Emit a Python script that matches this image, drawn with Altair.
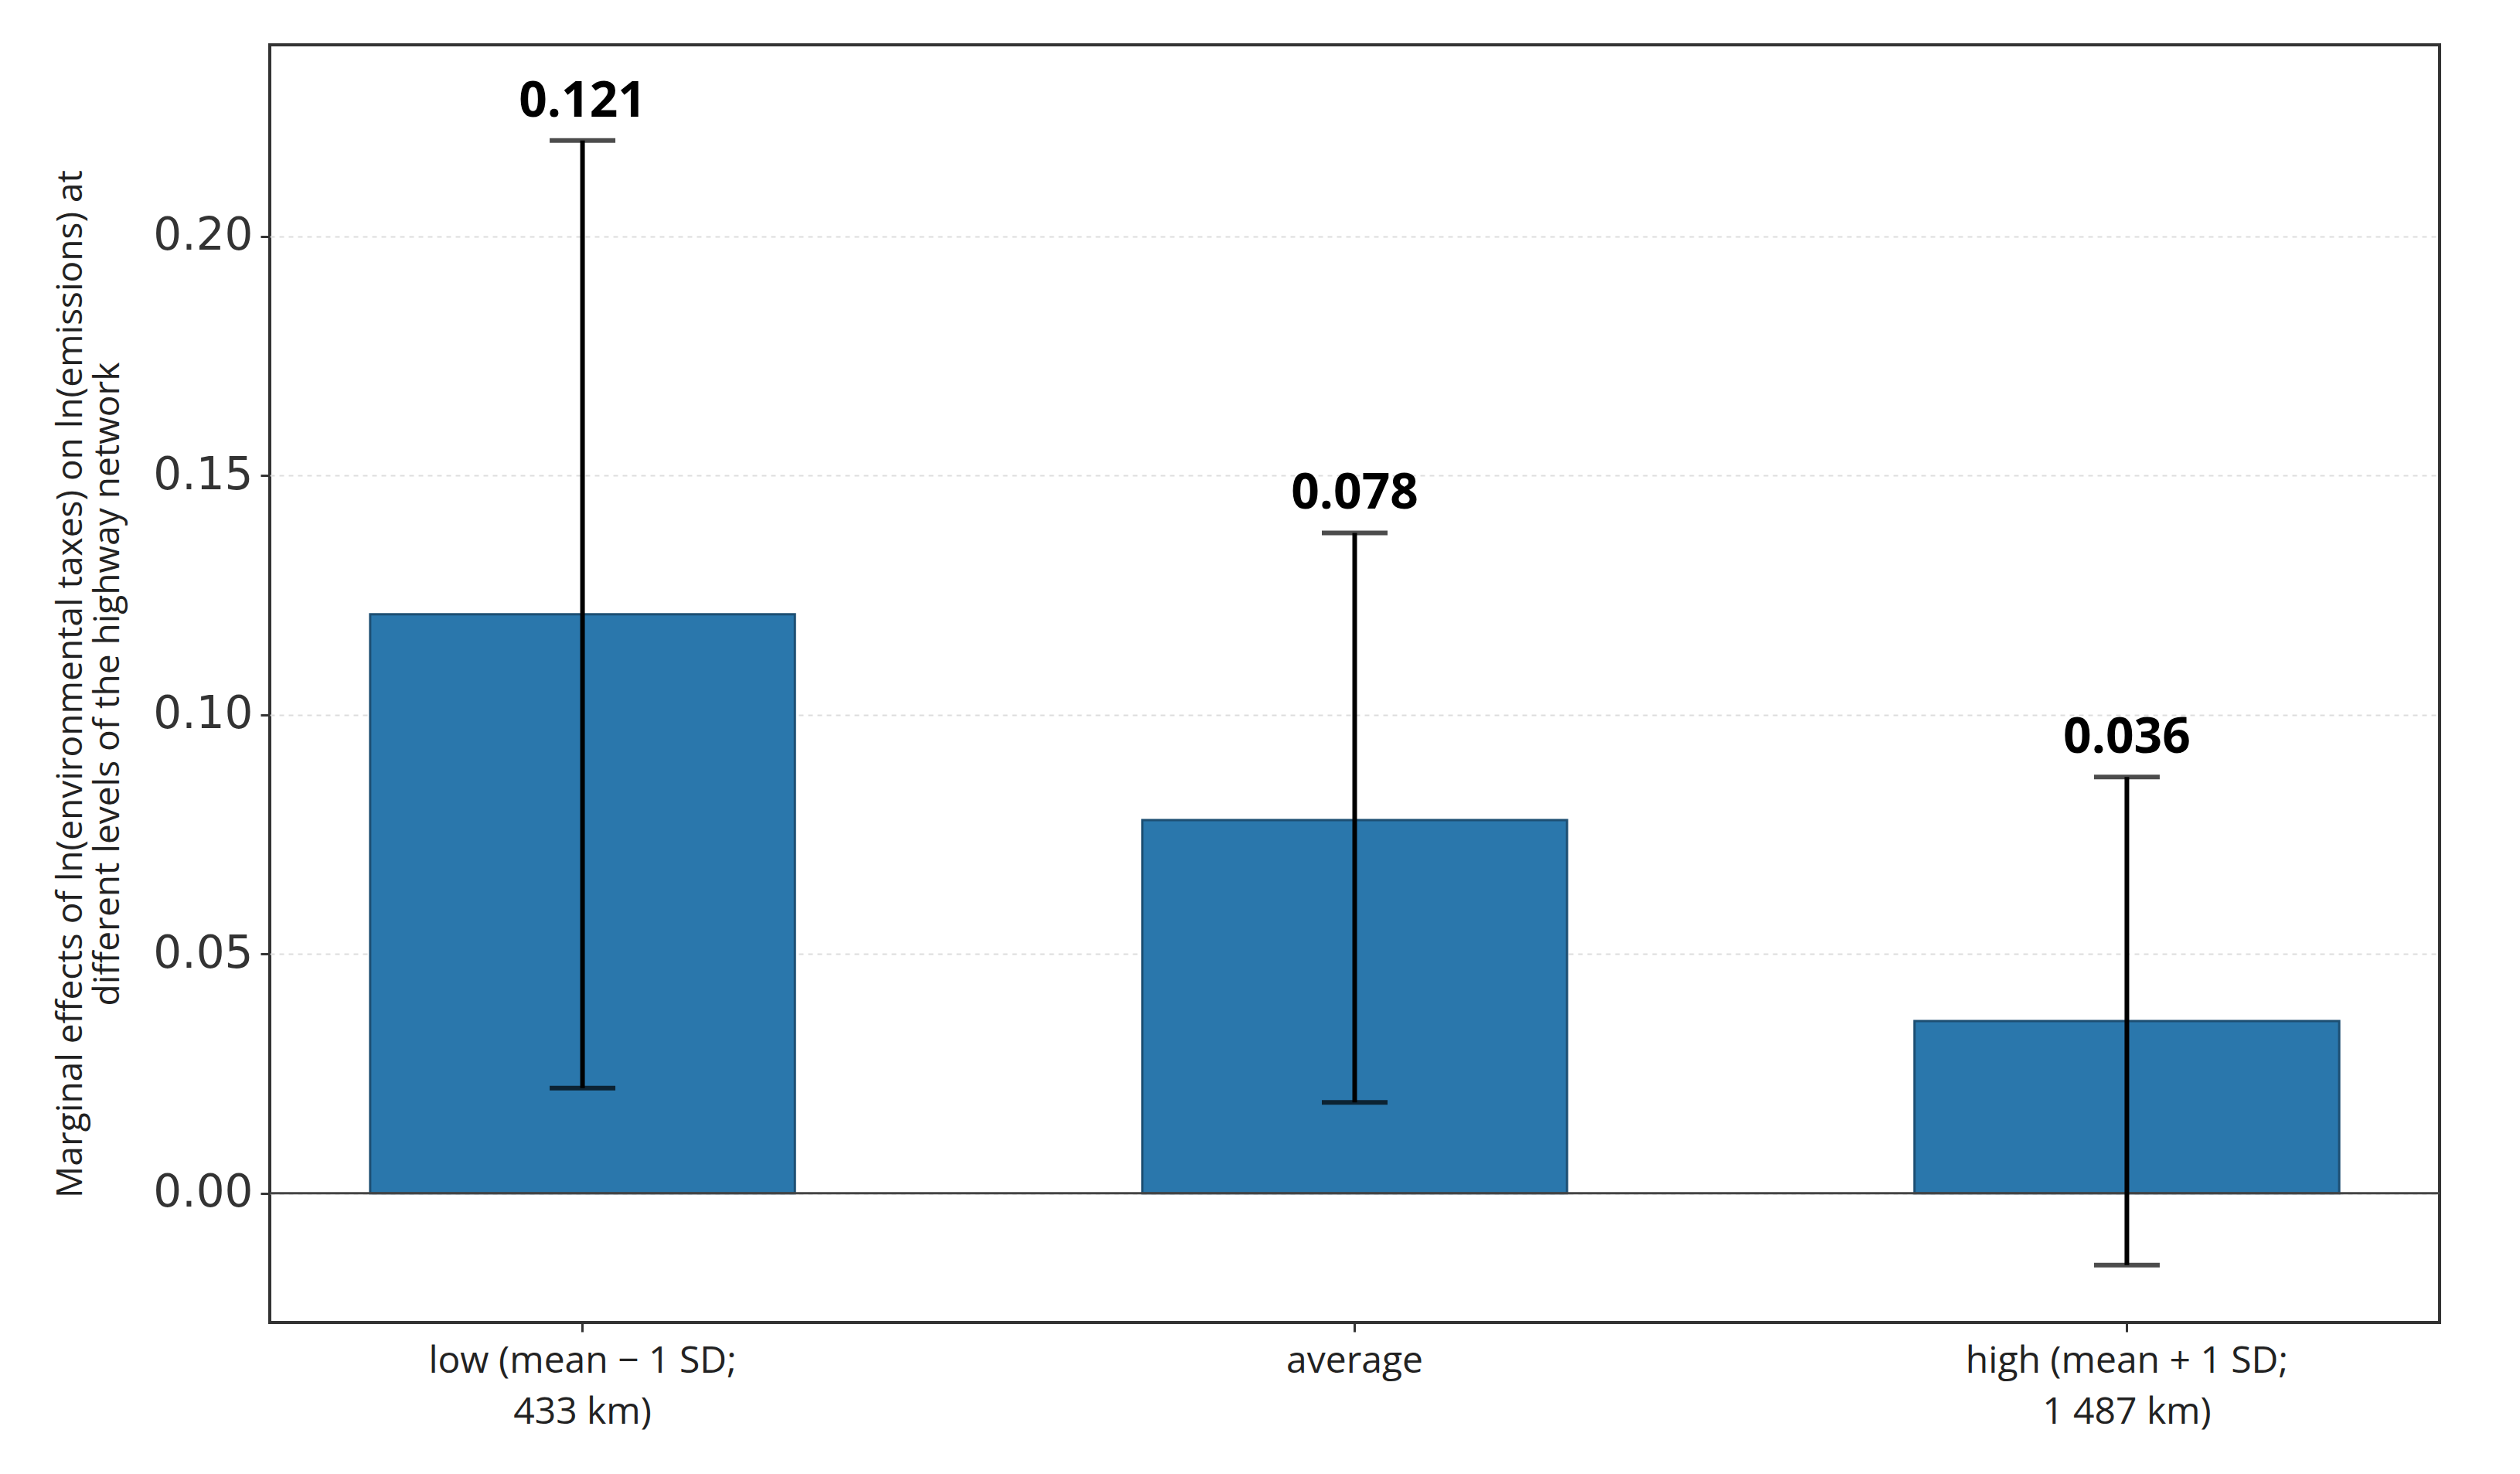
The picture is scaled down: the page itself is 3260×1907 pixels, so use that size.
import pandas as pd
import altair as alt

levels = ["low (mean − 1 SD;|433 km)", "average", "high (mean + 1 SD;|1 487 km)"]
effects = [0.121, 0.078, 0.036]
ci_low = [0.022, 0.019, -0.015]
ci_high = [0.220, 0.138, 0.087]
labels = ["0.121", "0.078", "0.036"]

df = pd.DataFrame({"level": levels, "effect": effects, "lo": ci_low, "hi": ci_high, "label": labels})

x = alt.X("level:N", sort=levels, title=None,
          scale=alt.Scale(paddingInner=0.45, paddingOuter=0.13),
          axis=alt.Axis(labelAngle=0, labelExpr="split(datum.label, '|')", labelFontSize=48,
                        labelFont="Open Sans", labelColor="#222", labelPadding=14, labelLimit=0,
                        tickSize=12, tickWidth=3, tickColor="#333", domain=False, grid=False,
                        labelLineHeight=66))
yscale = alt.Scale(domain=[-0.027, 0.240], nice=False, zero=False)

base = alt.Chart(df)

bars = base.mark_bar(color="#2a77ac", stroke="#1d4f73", strokeWidth=3).encode(
    x=x,
    y=alt.Y("effect:Q", scale=yscale,
            title=["Marginal effects of ln(environmental taxes) on ln(emissions) at",
                   "different levels of the highway network"],
            axis=alt.Axis(values=[0, 0.05, 0.10, 0.15, 0.20], format=".2f",
                          labelFontSize=58, labelFont="DejaVu Sans", labelColor="#333",
                          titleFontSize=46, titleFont="Open Sans", titleFontWeight="normal",
                          titleColor="#222", titlePadding=34, labelPadding=10,
                          tickSize=12, tickWidth=3, tickColor="#333", domain=False,
                          grid=True, gridDash=[6, 6], gridColor="#dddddd", gridWidth=2)),
)

zero = alt.Chart(pd.DataFrame({"z": [0]})).mark_rule(color="#444", strokeWidth=3).encode(
    y=alt.Y("z:Q", scale=yscale))

err = base.mark_rule(color="black", strokeWidth=6).encode(
    x=x, y=alt.Y("lo:Q", scale=yscale), y2="hi:Q")
cap_hi = base.mark_tick(color="black", size=85, thickness=6, orient="horizontal").encode(
    x=x, y=alt.Y("hi:Q", scale=yscale))
cap_lo = base.mark_tick(color="black", size=85, thickness=6, orient="horizontal").encode(
    x=x, y=alt.Y("lo:Q", scale=yscale))
text = base.mark_text(fontSize=64, fontWeight="bold", font="Open Sans", dy=-50, color="black").encode(
    x=x, y=alt.Y("hi:Q", scale=yscale), text="label:N")

chart = alt.layer(bars, zero, err, cap_hi, cap_lo, text).properties(
    width=2807, height=1653,
    padding={"left": 60, "top": 50, "right": 10, "bottom": 10},
    background="white"
).configure_view(stroke="#333333", strokeWidth=4, strokeOpacity=1)

chart.save("out.html", embed_options={"renderer": "svg", "actions": False})
